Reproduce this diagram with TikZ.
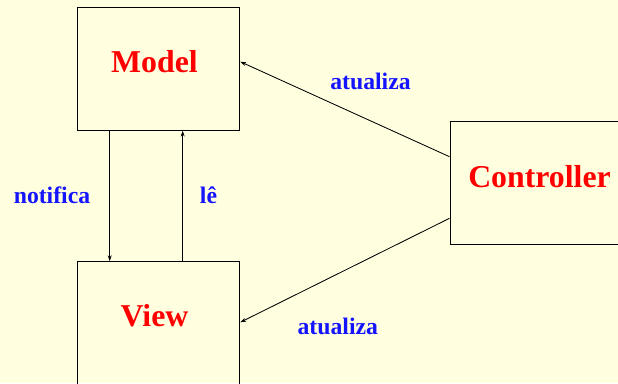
\documentclass[tikz,border=0pt]{standalone}
\usepackage{fontspec}
\setmainfont{Liberation Serif}
\usetikzlibrary{arrows.meta}
\definecolor{bgyellow}{RGB}{255,255,224}
\definecolor{lblue}{RGB}{20,20,255}
\tikzset{
  box/.style={draw=black, line width=1pt, minimum width=162.5pt, minimum height=122.3pt, inner sep=0pt},
  title/.style={text=red, font=\fontsize{31.8}{31.8}\selectfont\bfseries, anchor=base, inner sep=0pt},
  lbl/.style={text=lblue, font=\fontsize{23.7}{23.7}\selectfont\bfseries, anchor=base, inner sep=0pt},
  arr/.style={draw=black, line width=0.85pt, -{Stealth[length=6pt,width=4pt]}}
}
\begin{document}
\begin{tikzpicture}[x=1pt,y=-1pt]
\useasboundingbox (0,0) rectangle (618,383);
\fill[bgyellow] (0,0) rectangle (618,383);
\begin{scope}
\clip (0,0) rectangle (618,383);
\node[box] (model) at (158.5,69) {};
\node[box] (view) at (158.5,322.9) {};
\node[box, minimum width=170pt] (ctrl) at (535,182.9) {};
\node[title] (modelt) at (154.5,72.7) {Model};
\node[title] (viewt) at (154.5,326.7) {View};
\node[title] (ctrlt) at (539.5,187.3) {Controller};
\node[lbl] (notif) at (52,203.3) {notifica};
\node[lbl] (le) at (208.5,203.3) {lê};
\node[lbl] (atu1) at (370.5,89.3) {atualiza};
\node[lbl] (atu2) at (337.8,334) {atualiza};
\draw[arr] ([xshift=-48.8pt]model.south) -- ([xshift=-48.8pt]view.north);
\draw[arr] ([xshift=24.2pt]view.north) -- ([xshift=24.2pt]model.south);
\draw[arr] ([yshift=26.2pt]ctrl.west) -- ([yshift=7.3pt]model.east);
\draw[arr] ([yshift=-35.4pt]ctrl.west) -- ([yshift=0.6pt]view.east);
\end{scope}
\end{tikzpicture}
\end{document}
